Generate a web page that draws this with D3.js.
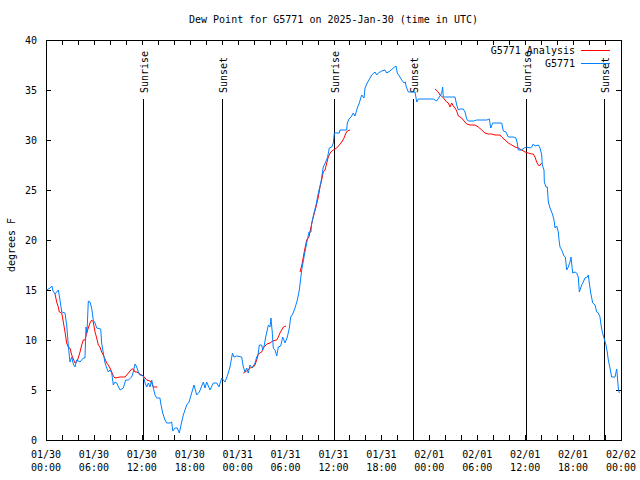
<!DOCTYPE html>
<html><head><meta charset="utf-8">
<script src="https://cdn.jsdelivr.net/npm/d3@7"></script>
<style>
body{margin:0;background:#fff;}
text{font-family:"DejaVu Sans Mono","Liberation Mono",monospace;font-size:10px;fill:#000;}
</style></head>
<body><svg id="c" width="640" height="480"></svg>
<script>
// Hours after 2025-01-30 00:00 UTC
const obsTime = [0.09,0.5,0.75,0.88,1.13,1.54,1.75,1.97,2.38,2.59,2.79,3.0,3.22,3.42,3.63,3.84,4.26,4.67,4.88,5.01,5.13,5.3,5.51,5.72,5.92,6.14,6.35,6.85,6.97,7.18,7.39,7.6,7.8,8.01,8.23,8.43,8.64,8.85,9.27,9.68,9.98,10.31,10.73,10.93,11.14,11.36,11.56,11.77,12.18,12.4,12.61,12.81,13.02,13.24,13.44,13.65,13.86,14.27,14.36,14.61,14.9,15.11,15.53,15.74,15.87,16.15,16.44,16.69,16.99,17.19,17.62,17.91,18.24,18.53,18.87,19.2,19.7,19.91,20.12,20.54,20.95,21.38,21.66,22.0,22.41,22.7,23.04,23.35,23.54,23.88,24.5,24.71,24.92,25.13,25.33,25.54,25.79,26.17,26.38,26.55,26.71,27.01,27.13,27.34,27.51,27.71,27.84,28.05,28.17,28.34,28.46,28.68,28.89,29.09,29.39,29.64,29.93,30.22,30.47,30.64,30.89,31.18,31.47,31.72,32.02,32.31,32.64,32.93,33.18,33.27,33.56,33.81,34.1,34.43,34.72,35.02,35.27,35.47,35.78,35.98,36.1,36.73,36.81,37.65,37.73,37.94,38.19,38.48,38.69,38.98,39.23,39.53,39.82,39.95,40.23,40.57,40.78,41.2,41.41,41.61,42.04,42.45,42.66,43.08,43.49,43.83,43.99,44.24,44.54,44.83,45.0,45.08,45.37,46.21,46.42,46.62,48.5,48.92,49.25,49.55,49.67,49.75,51.21,51.43,51.63,51.84,52.25,52.47,52.68,52.88,53.51,53.93,55.18,55.51,55.69,55.94,57.06,57.27,57.6,57.89,58.52,58.85,59.01,59.14,59.57,59.86,60.19,60.61,60.82,61.02,61.23,61.65,61.86,62.07,62.15,62.36,62.4,62.61,62.77,62.9,63.11,63.32,63.45,63.61,63.74,63.95,64.15,64.24,64.36,64.58,64.86,65.03,65.2,65.4,65.61,65.74,65.95,66.24,66.45,66.65,66.78,67.08,67.28,67.49,67.78,67.91,68.03,68.21,68.46,68.75,68.96,69.16,69.37,69.5,69.66,69.87,70.12,70.28,70.41,70.62,70.83,71.25,71.46,71.53,71.66,71.79];
const obsDew = [15.0,15.2,15.4,14.9,14.6,15.0,14.0,12.8,12.7,11.5,9.5,7.8,8.3,7.6,7.3,8.0,7.8,8.2,8.2,11.3,10.7,13.9,13.8,13.2,12.0,11.7,11.2,11.1,9.7,8.7,7.7,7.2,6.8,7.0,6.7,5.5,5.8,5.7,5.0,5.2,6.0,6.0,6.3,6.8,7.6,7.3,6.8,6.5,6.4,5.7,5.3,5.7,5.3,6.0,5.2,4.5,4.2,4.2,3.7,2.7,2.0,1.7,1.7,1.8,0.9,1.2,1.2,0.7,1.8,2.5,3.5,3.8,4.7,5.5,4.5,4.8,5.8,5.2,5.8,5.0,5.7,5.7,5.3,6.2,5.8,6.4,7.3,8.7,8.3,8.4,8.3,7.3,6.8,7.2,6.7,7.5,7.2,7.7,8.3,8.5,9.5,9.5,9.0,9.5,10.3,11.0,11.5,11.3,12.2,10.7,9.2,9.0,8.4,9.3,9.4,10.3,9.7,10.3,11.2,12.3,12.6,13.2,14.0,15.0,17.0,18.3,19.7,20.8,20.8,21.7,22.7,23.5,24.7,25.8,27.3,27.8,28.3,29.2,29.3,29.7,30.7,30.7,31.0,31.0,31.7,32.1,32.3,32.7,32.4,33.2,33.7,34.5,34.2,35.2,35.7,36.2,36.5,36.8,36.5,36.7,36.9,37.0,36.7,36.9,37.2,37.4,36.7,36.4,36.0,35.7,35.8,35.4,34.8,34.8,33.8,34.1,34.1,33.9,34.3,34.7,35.3,34.3,34.3,33.5,33.0,33.1,33.1,32.8,32.1,31.9,31.9,32.0,32.0,32.1,31.2,31.7,31.7,30.9,30.8,30.3,30.3,30.2,29.7,29.0,29.0,29.2,29.3,29.2,29.3,29.6,29.4,29.5,29.2,28.5,27.5,27.0,25.8,25.3,25.3,23.8,23.2,22.8,22.5,22.0,21.2,21.4,20.8,20.0,19.3,19.0,18.4,18.3,17.0,17.3,17.8,18.3,16.7,16.8,16.7,16.3,14.8,15.5,15.8,16.2,16.3,16.5,15.7,14.7,13.7,13.5,12.8,12.7,12.3,11.5,10.8,10.2,9.5,8.8,8.0,7.2,6.3,6.3,7.1,6.5,5.2,4.7];

// Analysis series; null marks a gap between runs
const anaTime = [1.13,1.34,1.54,1.67,1.97,2.17,2.38,2.59,2.79,3.0,3.22,3.42,3.63,3.84,4.04,4.26,4.47,4.67,4.88,5.1,5.3,5.51,5.72,5.92,6.14,6.35,6.55,6.76,6.97,7.18,7.39,7.6,7.8,8.01,8.23,8.43,8.64,9.27,9.89,10.11,10.31,10.52,10.73,10.93,11.14,11.36,11.56,11.77,12.18,12.4,12.61,13.02,13.24,13.44,13.94,
  19.0,
  24.71,25.13,25.54,25.96,26.17,26.38,26.58,27.01,27.21,27.64,28.05,28.39,28.89,29.09,29.3,29.51,29.72,30.05,
  31.0,
  31.81,32.09,32.31,32.64,32.93,33.18,33.47,33.81,34.1,34.31,34.52,34.72,34.94,35.15,35.35,35.65,35.98,36.4,36.73,37.03,37.32,37.56,37.73,38.07,
  43.0,
  48.71,49.12,49.34,49.67,49.96,50.17,50.38,50.59,50.8,51.0,51.21,51.43,51.63,51.84,52.05,52.25,52.47,52.68,53.09,53.72,54.13,54.56,54.97,55.39,55.81,56.22,56.85,57.06,57.48,57.89,58.32,58.73,59.14,59.57,59.98,60.39,60.82,61.02,61.23,61.44,61.65,61.77,62.07];
const anaDew = [14.6,13.8,13.3,12.8,12.7,11.8,10.8,9.7,9.3,9.2,8.5,8.1,7.7,7.8,8.2,8.8,9.5,10.0,10.0,10.7,11.2,11.7,12.0,11.8,10.8,10.2,9.5,9.3,8.8,8.5,8.1,7.7,7.5,7.2,6.8,6.4,6.2,6.3,6.3,6.5,6.7,6.9,7.1,7.1,6.8,6.8,6.7,6.6,6.4,6.2,6.0,5.9,5.7,5.3,5.3,
  null,
  6.7,6.9,7.2,7.3,7.5,8.0,8.6,8.8,9.2,9.6,9.7,9.9,10.0,10.3,10.7,11.0,11.3,11.4,
  null,
  16.8,17.7,18.7,20.0,20.3,21.3,22.3,23.3,24.3,25.3,26.0,26.8,27.0,27.7,28.3,28.8,29.0,29.2,29.5,29.8,30.2,30.7,30.9,31.0,
  null,
  35.1,34.8,34.5,34.3,34.0,33.8,33.7,33.3,33.7,33.4,33.2,32.9,32.4,32.3,32.2,32.0,31.8,31.6,31.5,31.5,31.3,31.0,30.7,30.6,30.6,30.5,30.5,30.3,30.0,29.7,29.5,29.3,29.2,29.0,28.8,28.7,28.6,28.6,28.3,27.8,27.5,27.4,27.7];

const sunTime = [12.18, 22.0, 36.1, 46.0, 60.1, 69.9];
const sunLabel = ["Sunrise","Sunset","Sunrise","Sunset","Sunrise","Sunset"];
const yTicks = [0,5,10,15,20,25,30,35,40];
const seriesNames = ["G5771 Analysis","G5771"];
const seriesColors = ["#ff0000","#0080ff"];

const t0 = Date.UTC(2025,0,30);
const toDate = h => new Date(t0 + h*3600e3);

const svg = d3.select("#c");
const m = {l:46, t:40, r:621, b:440};
const x = d3.scaleUtc().domain([toDate(0), toDate(72)]).range([m.l, m.r]);
const y = d3.scaleLinear().domain([0,40]).range([m.b, m.t]);

// title
svg.append("text").attr("x",(m.l+m.r)/2).attr("y",23).attr("text-anchor","middle")
  .text("Dew Point for G5771 on 2025-Jan-30 (time in UTC)");

// axes ticks
const xt = d3.utcHour.every(2).range(toDate(0), toDate(72.01));
const axB = d3.axisBottom(x).tickValues(xt).tickSizeInner(-5).tickSizeOuter(0).tickFormat("");
const axT = d3.axisTop(x).tickValues(xt).tickSizeInner(-5).tickSizeOuter(0).tickFormat("");
const axL = d3.axisLeft(y).tickValues(yTicks).tickSizeInner(-5).tickSizeOuter(0).tickFormat("");
const axR = d3.axisRight(y).tickValues(yTicks).tickSizeInner(-5).tickSizeOuter(0).tickFormat("");
[[axB,`translate(0,${m.b})`],[axT,`translate(0,${m.t})`],[axL,`translate(${m.l},0)`],[axR,`translate(${m.r},0)`]].forEach(([a,tr])=>{
  const g = svg.append("g").attr("transform",tr).call(a);
  g.select(".domain").remove();
  g.selectAll("line").attr("stroke","#000").attr("shape-rendering","crispEdges");
});

// tick labels
const fmtD = d3.utcFormat("%m/%d"), fmtH = d3.utcFormat("%H:%M");
const xl = d3.utcHour.every(6).range(toDate(0), toDate(72.01));
const lg = svg.append("g");
xl.forEach(d=>{
  lg.append("text").attr("x",x(d)).attr("y",457.5).attr("text-anchor","middle").text(fmtD(d));
  lg.append("text").attr("x",x(d)).attr("y",470.5).attr("text-anchor","middle").text(fmtH(d));
});
yTicks.forEach(v=>{
  lg.append("text").attr("x",37).attr("y",y(v)+3.5).attr("text-anchor","end").text(v);
});
svg.append("text").attr("transform","translate(15,245) rotate(-90)").attr("text-anchor","middle").text("degrees F");

// sun lines
sunTime.forEach((h,i)=>{
  const xx = Math.round(x(toDate(h)))+0.5;
  svg.append("line").attr("x1",xx).attr("x2",xx).attr("y1",y(34.1)).attr("y2",m.b)
    .attr("stroke","#000").attr("stroke-width",1);
  svg.append("text").attr("transform",`translate(${xx+4},93) rotate(-90)`).attr("text-anchor","start").text(sunLabel[i]);
});

// frame
svg.append("rect").attr("x",m.l+0.5).attr("y",m.t+0.5).attr("width",m.r-m.l).attr("height",m.b-m.t)
  .attr("fill","none").attr("stroke","#000").attr("shape-rendering","crispEdges");

// data lines
const obs = obsTime.map((h,i)=>({d:toDate(h), v:obsDew[i]}));
const ana = anaTime.map((h,i)=>({d:toDate(h), v:anaDew[i]}));
const line = d3.line().defined(p=>p.v!==null).x(p=>x(p.d)).y(p=>y(p.v));
svg.append("path").datum(ana).attr("d",line).attr("fill","none").attr("stroke",seriesColors[0]).attr("stroke-width",1);
svg.append("path").datum(obs).attr("d",line).attr("fill","none").attr("stroke",seriesColors[1]).attr("stroke-width",1);

// legend
const legY = [50, 63];
seriesNames.forEach((n,i)=>{
  svg.append("text").attr("x",575).attr("y",legY[i]+3.5).attr("text-anchor","end").text(n);
  svg.append("line").attr("x1",581).attr("x2",610).attr("y1",legY[i]+0.5).attr("y2",legY[i]+0.5)
    .attr("stroke",seriesColors[i]).attr("stroke-width",1);
});
</script></body></html>
